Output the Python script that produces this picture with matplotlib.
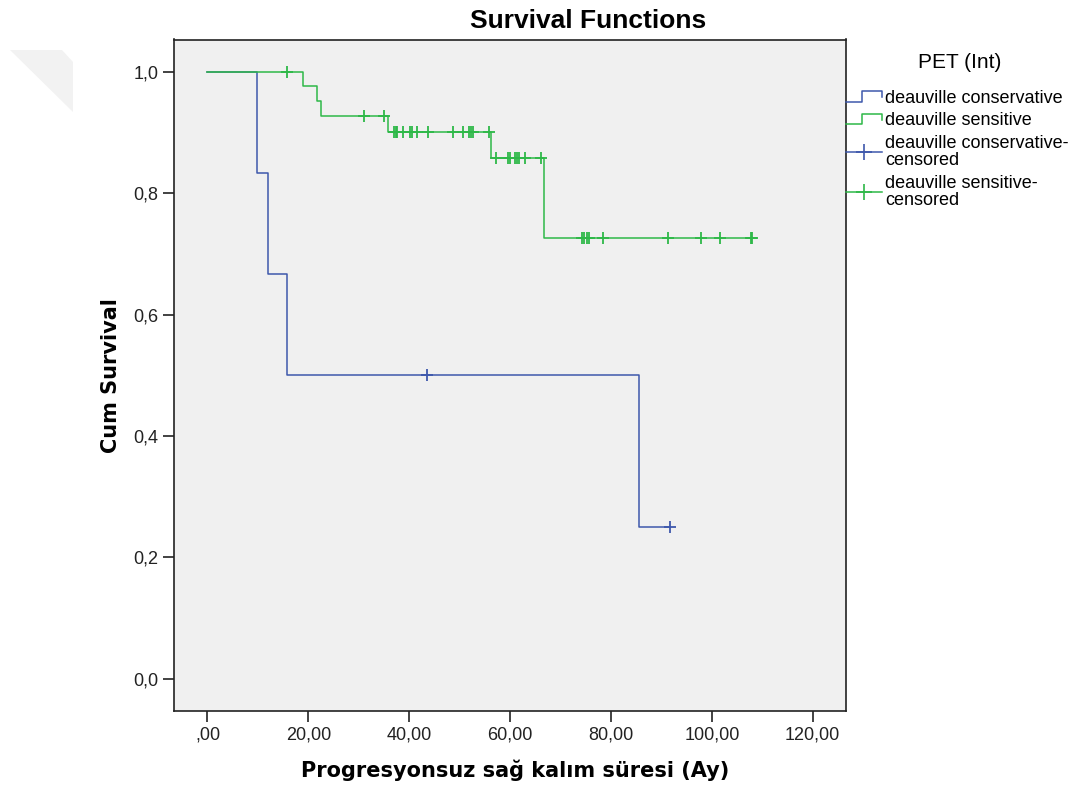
import numpy as np
import matplotlib
matplotlib.use("Agg")
import matplotlib.pyplot as plt
from matplotlib.lines import Line2D
from matplotlib.legend_handler import HandlerBase
from matplotlib.patches import Polygon
from matplotlib.ticker import FuncFormatter

# Data
blue_event_times = [9.9, 12.0, 15.8, 85.6]
blue_event_surv = [0.833, 0.667, 0.500, 0.250]
blue_censor_times = [43.5, 91.7]

green_event_times = [18.9, 21.8, 22.6, 35.7, 56.2, 66.8]
green_event_surv = [0.976, 0.951, 0.927, 0.900, 0.857, 0.726]
green_censor_times = [15.8, 31.0, 34.9, 36.9, 37.3, 37.6, 38.8, 40.2, 40.5, 41.5,
                      43.7, 48.7, 50.6, 51.9, 52.2, 52.6, 55.9, 57.2, 59.6, 60.0,
                      61.0, 61.4, 61.8, 63.0, 66.1, 74.2, 74.7, 75.2, 75.6, 78.4,
                      91.3, 97.8, 101.6, 107.7, 107.9]

labels = ["deauville conservative", "deauville sensitive",
          "deauville conservative-\ncensored", "deauville sensitive-\ncensored"]
x_ticks = [0, 20, 40, 60, 80, 100, 120]
y_ticks = [0.0, 0.2, 0.4, 0.6, 0.8, 1.0]

BLUE = "#3e58ac"
GREEN = "#2eb848"


def step_curve(ev_t, ev_s, cens_t):
    end = max(ev_t + cens_t)
    xs = [0.0] + list(ev_t) + [end]
    ys = [1.0] + list(ev_s) + [ev_s[-1]]
    return xs, ys


def surv_at(t, ev_t, ev_s):
    s = 1.0
    for et, es in zip(ev_t, ev_s):
        if t >= et:
            s = es
    return s


class StepHandler(HandlerBase):
    def create_artists(self, legend, orig_handle, xdescent, ydescent,
                       width, height, fontsize, trans):
        w, h = width, height
        xs = np.array([0, 0.45 * w, 0.45 * w, w, w]) - xdescent
        ys = np.array([0.1 * h, 0.1 * h, 0.9 * h, 0.9 * h, 0.45 * h]) - ydescent
        ln = Line2D(xs, ys, color=orig_handle.get_color(), lw=1.1)
        ln.set_transform(trans)
        return [ln]


fig = plt.figure(figsize=(10.73, 7.93), dpi=100)
ax = fig.add_axes([173.5 / 1073, 1 - 711 / 793, (846 - 173.5) / 1073, (711 - 39.5) / 793])
ax.set_facecolor("#f0f0f0")

# faint watermark shape in the top-left corner
fig.patches.append(Polygon([[10 / 1073, 1 - 50 / 793], [62 / 1073, 1 - 50 / 793],
                            [73 / 1073, 1 - 62 / 793], [73 / 1073, 1 - 112 / 793]],
                           closed=True, transform=fig.transFigure,
                           facecolor="#f2f2f2", edgecolor="none"))

bx, by = step_curve(blue_event_times, blue_event_surv, blue_censor_times)
gx, gy = step_curve(green_event_times, green_event_surv, green_censor_times)

l_blue, = ax.step(bx, by, where="post", color=BLUE, lw=1.1)
l_green, = ax.step(gx, gy, where="post", color=GREEN, lw=1.1)

bc_y = [surv_at(t, blue_event_times, blue_event_surv) for t in blue_censor_times]
gc_y = [surv_at(t, green_event_times, green_event_surv) for t in green_censor_times]
ax.plot(blue_censor_times, bc_y, ls="none", marker="+", ms=9, mew=1.3, color=BLUE)
ax.plot(green_censor_times, gc_y, ls="none", marker="+", ms=9, mew=1.3, color=GREEN)

ax.set_xlim(-6.74, 126.6)
ax.set_ylim(-0.0527, 1.0527)
ax.set_xticks(x_ticks)
ax.set_yticks(y_ticks)
ax.xaxis.set_major_formatter(FuncFormatter(
    lambda v, p: ",00" if v == 0 else f"{v:.2f}".replace(".", ",")))
ax.yaxis.set_major_formatter(FuncFormatter(lambda v, p: f"{v:.1f}".replace(".", ",")))
ax.tick_params(direction="out", length=8, width=1.2, labelsize=13, color="#222222",
               labelcolor="#222222")
ax.tick_params(axis="y", pad=3)
ax.tick_params(axis="x", pad=3)
for lab in ax.get_xticklabels() + ax.get_yticklabels():
    lab.set_family("Liberation Sans")
for sp in ax.spines.values():
    sp.set_color("#222222")
    sp.set_linewidth(1.2)

ax.set_xlabel("Progresyonsuz sağ kalım süresi (Ay)", fontsize=15, fontweight="bold",
              family="DejaVu Sans")
ax.xaxis.set_label_coords(0.508, -0.0715)
ax.set_ylabel("Cum Survival", fontsize=15, fontweight="bold", family="DejaVu Sans")
ax.yaxis.set_label_coords(-0.078, 0.5)

fig.text(588 / 1073, 1 - 28.3 / 793, "Survival Functions", fontsize=19,
         fontweight="bold", family="Liberation Sans", ha="center", va="baseline")
fig.text(960 / 1073, 1 - 62 / 793, "PET (Int)", fontsize=15,
         family="Liberation Sans", ha="center", va="center")

h_cb = Line2D([], [], color=BLUE, lw=1.1, marker="+", ms=12, mew=1.2)
h_cg = Line2D([], [], color=GREEN, lw=1.1, marker="+", ms=12, mew=1.2)
leg = ax.legend([l_blue, l_green, h_cb, h_cg], labels,
                handler_map={l_blue: StepHandler(), l_green: StepHandler()},
                loc="upper left", bbox_to_anchor=(1.0, 0.925), frameon=False,
                borderaxespad=0, borderpad=0, handlelength=2.0, handletextpad=0.15,
                labelspacing=0.3,
                prop={"family": "Liberation Sans", "size": 13})
for t in leg.get_texts():
    t.set_linespacing(1.05)

fig.savefig("out.png", dpi=100)
